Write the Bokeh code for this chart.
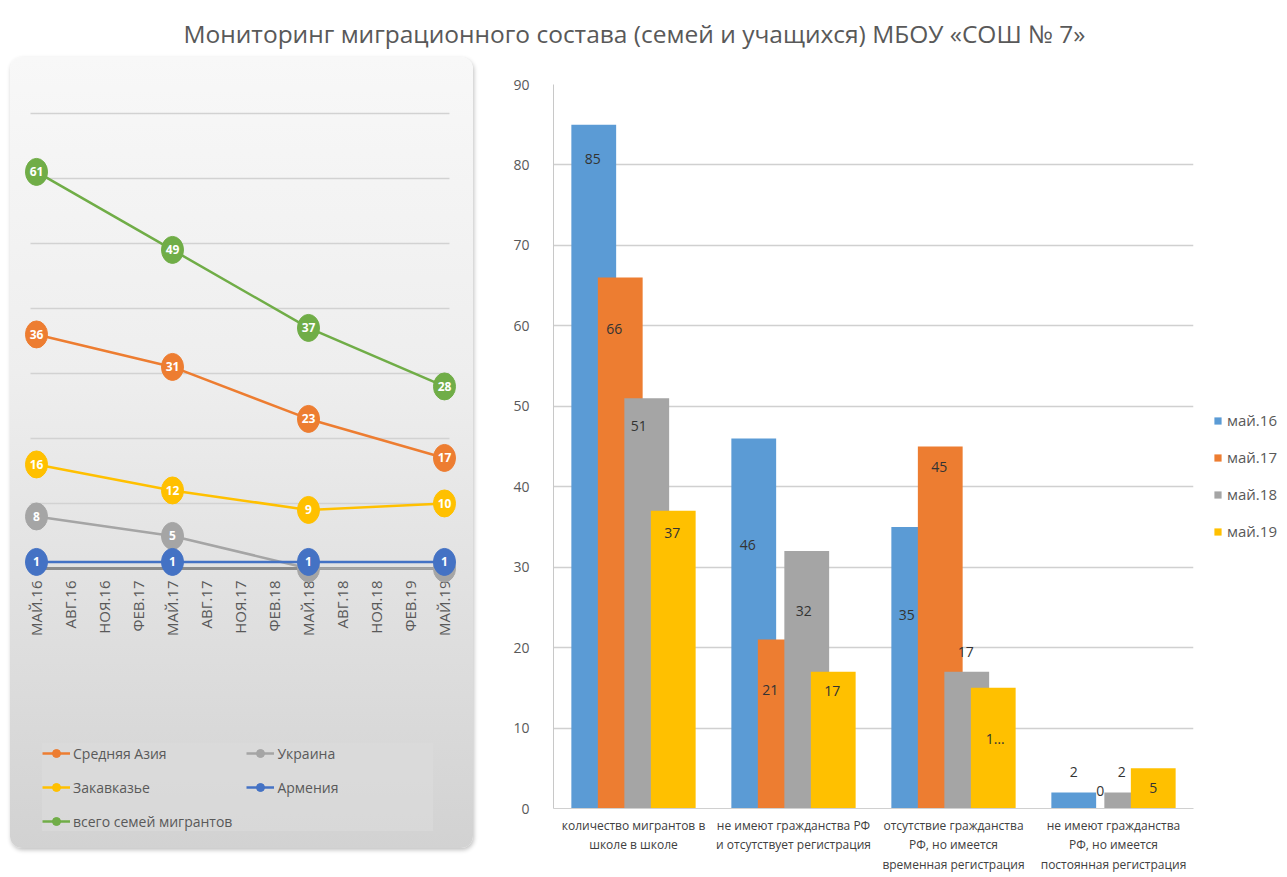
import math
from bokeh.plotting import figure
from bokeh.layouts import column, row
from bokeh.models import (ColumnDataSource, FactorRange, Legend, LegendItem,
                          FixedTicker, Range1d)
from bokeh.transform import dodge
from bokeh.core.properties import value
from bokeh.embed import file_html
from bokeh.resources import INLINE

FONT = "Open Sans"
TXT = "#595959"

# ---------------- data ----------------
title_text = "Мониторинг миграционного состава (семей и учащихся) МБОУ «СОШ № 7»"

# left chart (line)
month_labels = ["МАЙ.16", "АВГ.16", "НОЯ.16", "ФЕВ.17", "МАЙ.17", "АВГ.17", "НОЯ.17",
                "ФЕВ.18", "МАЙ.18", "АВГ.18", "НОЯ.18", "ФЕВ.19", "МАЙ.19"]
point_months = [0, 12, 24, 36]          # months since май.16
line_names = ["Средняя Азия", "Украина", "Закавказье", "Армения", "всего семей мигрантов"]
central_asia = [36, 31, 23, 17]
ukraine = [8, 5, 0, 0]
transcaucasia = [16, 12, 9, 10]
armenia = [1, 1, 1, 1]
total_families = [61, 49, 37, 28]
line_colors = ["#ED7D31", "#A5A5A5", "#FFC000", "#4472C4", "#70AD47"]
left_grid = [10, 20, 30, 40, 50, 60, 70]

# right chart (bars)
categories = ["количество мигрантов в\nшколе в школе",
              "не имеют гражданства РФ\nи отсутствует регистрация",
              "отсутствие гражданства\nРФ, но имеется\nвременная регистрация",
              "не имеют гражданства\nРФ, но имеется\nпостоянная регистрация"]
bar_series = ["май.16", "май.17", "май.18", "май.19"]
may16 = [85, 46, 35, 2]
may17 = [66, 21, 45, 0]
may18 = [51, 32, 17, 2]
may19 = [37, 17, 15, 5]
bar_colors = ["#5B9BD5", "#ED7D31", "#A5A5A5", "#FFC000"]

# label placement (layout only): dy in data units from bar top, dx in screen px
label_dy = [[-4.2, -13.3, -10.9, 2.5],
            [-6.4, -6.3, -2.5, 2.2],
            [-3.4, -7.4, 2.4, 2.5],
            [-2.8, -2.4, -6.3, -2.5]]
label_dx = [[-1, -6, -7, 0],
            [-6, -10, -1, 0],
            [-8, -3, -1, -5],
            [-1, -1, 2, 0]]


def no_align(p):
    if "frame_align" in p.properties():
        p.frame_align = False


# ---------------- title ----------------
pt = figure(width=1285, height=51, x_range=Range1d(0, 1285), y_range=Range1d(0, 51),
            toolbar_location=None, output_backend="svg", min_border=0)
pt.axis.visible = False
pt.grid.visible = False
pt.outline_line_color = None
pt.text(x=[634], y=[18], text=[title_text], text_align="center",
        text_baseline="middle", text_font=value(FONT), text_font_size="24.5px",
        text_color=TXT)

# ---------------- left chart (panel) ----------------
XL0, XL1 = -0.53, 36.44          # horizontal extent of the grid area (months)
pl = figure(width=463, height=791, x_range=Range1d(-2.294, 38.56), y_range=Range1d(-43.08, 78.6),
            toolbar_location=None, output_backend="svg", min_border=0,
            margin=(6, 5, 0, 10),
            styles={"background": "linear-gradient(180deg, #F8F8F8 0%, #EEEEEE 40%, #DFDFDF 72%, #D2D2D2 100%)",
                    "border-radius": "12px",
                    "box-shadow": "1px 2px 4px rgba(0,0,0,0.25)"})
no_align(pl)
pl.background_fill_color = None
pl.border_fill_color = None
pl.outline_line_color = None
pl.axis.visible = False
pl.grid.visible = False

pl.segment(x0=[XL0] * len(left_grid), x1=[XL1] * len(left_grid), y0=left_grid, y1=left_grid,
           line_color="#D2D2D2", line_width=1.5)
pl.segment(x0=[XL0], x1=[XL1], y0=[0], y1=[0], line_color="#8C8C8C", line_width=3)

month_pos = [3 * i for i in range(len(month_labels))]
pl.text(x=month_pos, y=[-1.85] * len(month_pos), text=month_labels, angle=math.pi / 2,
        text_align="right", text_baseline="middle", text_font=value(FONT),
        text_font_size="15px", text_color=TXT)

items = []
for name, vals, col in zip(line_names, [central_asia, ukraine, transcaucasia, armenia, total_families],
                           line_colors):
    src = ColumnDataSource(dict(x=point_months, y=vals, t=[str(v) for v in vals]))
    r1 = pl.line("x", "y", source=src, line_color=col, line_width=2.5)
    r2 = pl.scatter("x", "y", source=src, size=8, fill_color=col, line_color=col)
    pl.ellipse("x", "y", source=src, width=22, height=27, width_units="screen",
               height_units="screen", fill_color=col, line_color=col)
    pl.text("x", "y", text="t", source=src, text_align="center", text_baseline="middle",
            text_color="white", text_font=value(FONT), text_font_style="bold",
            text_font_size="12px")
    items.append(LegendItem(label=name, renderers=[r1, r2]))

leg_l = Legend(items=items, location=(32, 17), orientation="horizontal", ncols=2,
               glyph_width=28, glyph_height=20, label_height=20, label_standoff=3,
               label_width=156, spacing=14, padding=10, margin=0,
               background_fill_color="#DCDCDC", background_fill_alpha=0.6,
               border_line_color=None, label_text_font=FONT, label_text_font_size="14px",
               label_text_color=TXT)
pl.add_layout(leg_l, "center")

# ---------------- right chart ----------------
pr = figure(width=730, height=825, x_range=FactorRange(*categories), y_range=Range1d(0, 90),
            toolbar_location=None, output_backend="svg",
            min_border_left=75, min_border_right=15, min_border_top=33, min_border_bottom=68)
no_align(pr)
pr.outline_line_color = None
pr.xgrid.visible = False
pr.ygrid.grid_line_color = "#D0D0D0"
pr.ygrid.grid_line_width = 1.5
pr.yaxis.ticker = FixedTicker(ticks=list(range(0, 91, 10)))
pr.yaxis.major_tick_line_color = None
pr.yaxis.minor_tick_line_color = None
pr.yaxis.axis_line_color = "#C8C8C8"
pr.yaxis.major_label_standoff = 18
pr.yaxis.major_label_text_font = FONT
pr.yaxis.major_label_text_font_size = "14px"
pr.yaxis.major_label_text_color = TXT
pr.xaxis.axis_line_color = "#D0D0D0"
pr.xaxis.major_tick_line_color = None
pr.xaxis.major_label_standoff = 2
pr.xaxis.major_label_text_font = FONT
pr.xaxis.major_label_text_font_size = "12px"
pr.xaxis.major_label_text_color = "#404040"
pr.xaxis.major_label_text_line_height = 1.15

step = 0.1656
offsets = [-1.5 * step, -0.5 * step, 0.5 * step, 1.5 * step]
sources = []
for k, (vals, col) in enumerate(zip([may16, may17, may18, may19], bar_colors)):
    labs = [str(v) for v in vals]
    if k == 3:
        labs[2] = "1…"
    src = ColumnDataSource(dict(cat=categories, v=vals,
                                ly=[v + d for v, d in zip(vals, label_dy[k])],
                                dx=label_dx[k], t=labs))
    sources.append(src)
    pr.vbar(x=dodge("cat", offsets[k], range=pr.x_range), top="v", width=0.28, source=src,
            fill_color=col, line_color=None)
for k, src in enumerate(sources):
    pr.text(x=dodge("cat", offsets[k], range=pr.x_range), y="ly", text="t", source=src,
            x_offset="dx", text_align="center", text_baseline="middle", text_font=value(FONT),
            text_font_size="14px", text_color="#333333")

# ---------------- right legend ----------------
plg = figure(width=77, height=825, x_range=Range1d(0, 1), y_range=Range1d(0, 1),
             toolbar_location=None, output_backend="svg", min_border=0)
no_align(plg)
plg.axis.visible = False
plg.grid.visible = False
plg.outline_line_color = None
bitems = []
for name, col in zip(bar_series, bar_colors):
    rb = plg.vbar(x=[5], top=[1], width=0.5, fill_color=col, line_color=None)
    bitems.append(LegendItem(label=name, renderers=[rb]))
leg_r = Legend(items=bitems, location=(5, 335), orientation="vertical",
               glyph_width=9, glyph_height=9, label_height=20, label_standoff=5,
               spacing=17, padding=5, margin=0, background_fill_alpha=0,
               border_line_color=None, label_text_font=FONT, label_text_font_size="15px",
               label_text_color=TXT)
plg.add_layout(leg_r, "center")

layout = column(pt, row(pl, pr, plg))
open("out.html", "w").write(file_html(layout, INLINE))
